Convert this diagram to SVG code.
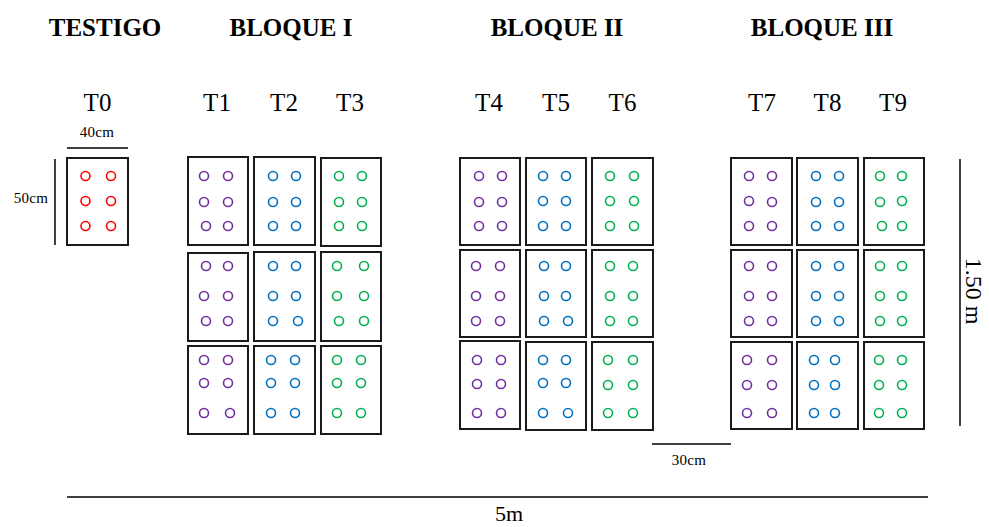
<svg xmlns="http://www.w3.org/2000/svg" width="989" height="527" viewBox="0 0 989 527">
<style>
text{font-family:"Liberation Serif","Times New Roman",serif;fill:#000}
.h{font-size:25px;font-weight:bold;text-anchor:middle}
.t{font-size:25px;text-anchor:middle}
.d{font-size:15px;text-anchor:middle;letter-spacing:0.3px}
.box{fill:#fff;stroke:#1a1a1a;stroke-width:2}
.dim{stroke:#000;stroke-width:1.5}
circle{fill:none;stroke-width:1.6}
.r circle{stroke:#FF0000}
.p circle{stroke:#7030A0}
.b circle{stroke:#0070C0}
.g circle{stroke:#00B050}
</style>
<g id="labels">
<text class="h" x="105" y="36">TESTIGO</text>
<text class="h" x="291" y="36">BLOQUE I</text>
<text class="h" x="557" y="36">BLOQUE II</text>
<text class="h" x="822" y="36">BLOQUE III</text>
<text class="t" x="97.5" y="111">T0</text>
<text class="t" x="217" y="111">T1</text>
<text class="t" x="284" y="111">T2</text>
<text class="t" x="350" y="111">T3</text>
<text class="t" x="489" y="111">T4</text>
<text class="t" x="556" y="111">T5</text>
<text class="t" x="622.5" y="111">T6</text>
<text class="t" x="762" y="111">T7</text>
<text class="t" x="827.5" y="111">T8</text>
<text class="t" x="893" y="111">T9</text>
</g>
<g id="dimensions">
<line class="dim" x1="67" y1="148" x2="128" y2="148"/>
<text class="d" x="97" y="137">40cm</text>
<line class="dim" x1="55" y1="159" x2="55" y2="245"/>
<text class="d" x="31" y="203">50cm</text>
<line class="dim" x1="652" y1="444" x2="731" y2="444"/>
<text class="d" x="689" y="465">30cm</text>
<line class="dim" x1="960" y1="159" x2="960" y2="426"/>
<text class="t" x="0" y="0" transform="translate(966 291) rotate(90)" style="font-size:24px">1.50 m</text>
<line class="dim" x1="67" y1="497" x2="928" y2="497"/>
<text class="t" x="509" y="521" style="font-size:22px">5m</text>
</g>
<g id="T0" class="r">
<rect class="box" x="67" y="158" width="61" height="87"/>
<circle cx="85.5" cy="176" r="4.5"/><circle cx="111" cy="176" r="4.5"/>
<circle cx="85.5" cy="201" r="4.5"/><circle cx="111" cy="201" r="4.5"/>
<circle cx="85.5" cy="226" r="4.5"/><circle cx="111" cy="226" r="4.5"/>
</g>
<g id="bloque1">
<g id="T1" class="p">
<rect class="box" x="188" y="157" width="60" height="88"/>
<rect class="box" x="188" y="253" width="60" height="88"/>
<rect class="box" x="188" y="346" width="60" height="88"/>
<circle cx="204" cy="176" r="4.5"/><circle cx="228" cy="176" r="4.5"/>
<circle cx="204" cy="202" r="4.5"/><circle cx="228" cy="202" r="4.5"/>
<circle cx="206" cy="226" r="4.5"/><circle cx="228" cy="226" r="4.5"/>
<circle cx="206" cy="266" r="4.5"/><circle cx="228" cy="266" r="4.5"/>
<circle cx="204" cy="296" r="4.5"/><circle cx="228" cy="296" r="4.5"/>
<circle cx="206" cy="321" r="4.5"/><circle cx="228" cy="321" r="4.5"/>
<circle cx="204" cy="360" r="4.5"/><circle cx="228" cy="360" r="4.5"/>
<circle cx="204" cy="383" r="4.5"/><circle cx="228" cy="383" r="4.5"/>
<circle cx="204" cy="413" r="4.5"/><circle cx="230" cy="413" r="4.5"/>
</g>
<g id="T2" class="b">
<rect class="box" x="254" y="157" width="61" height="88"/>
<rect class="box" x="254" y="252" width="61" height="89"/>
<rect class="box" x="254" y="346" width="61" height="88"/>
<circle cx="273" cy="176" r="4.5"/><circle cx="296" cy="176" r="4.5"/>
<circle cx="273" cy="202" r="4.5"/><circle cx="296" cy="202" r="4.5"/>
<circle cx="273" cy="226" r="4.5"/><circle cx="296" cy="226" r="4.5"/>
<circle cx="273" cy="266" r="4.5"/><circle cx="296" cy="266" r="4.5"/>
<circle cx="273" cy="296" r="4.5"/><circle cx="296" cy="296" r="4.5"/>
<circle cx="273" cy="321" r="4.5"/><circle cx="298" cy="321" r="4.5"/>
<circle cx="271" cy="360" r="4.5"/><circle cx="295" cy="360" r="4.5"/>
<circle cx="271" cy="383" r="4.5"/><circle cx="295" cy="383" r="4.5"/>
<circle cx="271" cy="413" r="4.5"/><circle cx="295" cy="413" r="4.5"/>
</g>
<g id="T3" class="g">
<rect class="box" x="321" y="158" width="60" height="88"/>
<rect class="box" x="321" y="252" width="60" height="89"/>
<rect class="box" x="321" y="346" width="60" height="88"/>
<circle cx="339" cy="176" r="4.5"/><circle cx="362" cy="176" r="4.5"/>
<circle cx="339" cy="202" r="4.5"/><circle cx="362" cy="202" r="4.5"/>
<circle cx="339" cy="226" r="4.5"/><circle cx="362" cy="226" r="4.5"/>
<circle cx="337" cy="266" r="4.5"/><circle cx="364" cy="266" r="4.5"/>
<circle cx="337" cy="296" r="4.5"/><circle cx="364" cy="296" r="4.5"/>
<circle cx="339" cy="321" r="4.5"/><circle cx="364" cy="321" r="4.5"/>
<circle cx="337" cy="360" r="4.5"/><circle cx="361" cy="360" r="4.5"/>
<circle cx="337" cy="383" r="4.5"/><circle cx="361" cy="383" r="4.5"/>
<circle cx="337" cy="413" r="4.5"/><circle cx="361" cy="413" r="4.5"/>
</g>
</g>
<g id="bloque2">
<g id="T4" class="p">
<rect class="box" x="460" y="158" width="60" height="87"/>
<rect class="box" x="460" y="250" width="60" height="87"/>
<rect class="box" x="460" y="341" width="60" height="88"/>
<circle cx="479" cy="176" r="4.5"/><circle cx="502" cy="176" r="4.5"/>
<circle cx="479" cy="202" r="4.5"/><circle cx="502" cy="202" r="4.5"/>
<circle cx="479" cy="226" r="4.5"/><circle cx="502" cy="226" r="4.5"/>
<circle cx="476" cy="266" r="4.5"/><circle cx="500" cy="266" r="4.5"/>
<circle cx="476" cy="296" r="4.5"/><circle cx="500" cy="296" r="4.5"/>
<circle cx="476" cy="321" r="4.5"/><circle cx="500" cy="321" r="4.5"/>
<circle cx="477" cy="360" r="4.5"/><circle cx="501" cy="360" r="4.5"/>
<circle cx="477" cy="384" r="4.5"/><circle cx="501" cy="384" r="4.5"/>
<circle cx="477" cy="413" r="4.5"/><circle cx="501" cy="413" r="4.5"/>
</g>
<g id="T5" class="b">
<rect class="box" x="526" y="158" width="60" height="87"/>
<rect class="box" x="526" y="250" width="60" height="87"/>
<rect class="box" x="526" y="342" width="60" height="88"/>
<circle cx="543" cy="176" r="4.5"/><circle cx="566" cy="176" r="4.5"/>
<circle cx="543" cy="201" r="4.5"/><circle cx="566" cy="201" r="4.5"/>
<circle cx="543" cy="226" r="4.5"/><circle cx="566" cy="226" r="4.5"/>
<circle cx="544" cy="266" r="4.5"/><circle cx="566" cy="266" r="4.5"/>
<circle cx="544" cy="296" r="4.5"/><circle cx="566" cy="296" r="4.5"/>
<circle cx="544" cy="321" r="4.5"/><circle cx="568" cy="321" r="4.5"/>
<circle cx="543" cy="360" r="4.5"/><circle cx="566" cy="360" r="4.5"/>
<circle cx="543" cy="383" r="4.5"/><circle cx="566" cy="383" r="4.5"/>
<circle cx="543" cy="413" r="4.5"/><circle cx="568" cy="413" r="4.5"/>
</g>
<g id="T6" class="g">
<rect class="box" x="592" y="158" width="61" height="87"/>
<rect class="box" x="592" y="250" width="61" height="87"/>
<rect class="box" x="592" y="342" width="61" height="88"/>
<circle cx="610" cy="176" r="4.5"/><circle cx="634" cy="176" r="4.5"/>
<circle cx="610" cy="201" r="4.5"/><circle cx="634" cy="201" r="4.5"/>
<circle cx="610" cy="226" r="4.5"/><circle cx="634" cy="226" r="4.5"/>
<circle cx="610" cy="266" r="4.5"/><circle cx="633" cy="266" r="4.5"/>
<circle cx="610" cy="296" r="4.5"/><circle cx="633" cy="296" r="4.5"/>
<circle cx="610" cy="321" r="4.5"/><circle cx="633" cy="321" r="4.5"/>
<circle cx="608" cy="360" r="4.5"/><circle cx="633" cy="360" r="4.5"/>
<circle cx="608" cy="385" r="4.5"/><circle cx="633" cy="385" r="4.5"/>
<circle cx="608" cy="413" r="4.5"/><circle cx="633" cy="413" r="4.5"/>
</g>
</g>
<g id="bloque3">
<g id="T7" class="p">
<rect class="box" x="731" y="158" width="61" height="87"/>
<rect class="box" x="731" y="250" width="61" height="87"/>
<rect class="box" x="731" y="342" width="61" height="87"/>
<circle cx="749" cy="176" r="4.5"/><circle cx="772" cy="176" r="4.5"/>
<circle cx="749" cy="201" r="4.5"/><circle cx="772" cy="202" r="4.5"/>
<circle cx="749" cy="226" r="4.5"/><circle cx="772" cy="226" r="4.5"/>
<circle cx="749" cy="266" r="4.5"/><circle cx="772" cy="266" r="4.5"/>
<circle cx="749" cy="296" r="4.5"/><circle cx="772" cy="296" r="4.5"/>
<circle cx="749" cy="321" r="4.5"/><circle cx="772" cy="321" r="4.5"/>
<circle cx="747" cy="360" r="4.5"/><circle cx="772" cy="360" r="4.5"/>
<circle cx="747" cy="385" r="4.5"/><circle cx="772" cy="385" r="4.5"/>
<circle cx="747" cy="413" r="4.5"/><circle cx="772" cy="413" r="4.5"/>
</g>
<g id="T8" class="b">
<rect class="box" x="797" y="158" width="61" height="87"/>
<rect class="box" x="797" y="250" width="61" height="87"/>
<rect class="box" x="797" y="342" width="61" height="87"/>
<circle cx="816" cy="176" r="4.5"/><circle cx="839" cy="176" r="4.5"/>
<circle cx="816" cy="202" r="4.5"/><circle cx="839" cy="202" r="4.5"/>
<circle cx="816" cy="226" r="4.5"/><circle cx="839" cy="226" r="4.5"/>
<circle cx="816" cy="266" r="4.5"/><circle cx="839" cy="266" r="4.5"/>
<circle cx="816" cy="296" r="4.5"/><circle cx="839" cy="296" r="4.5"/>
<circle cx="816" cy="321" r="4.5"/><circle cx="839" cy="321" r="4.5"/>
<circle cx="814" cy="360" r="4.5"/><circle cx="835" cy="360" r="4.5"/>
<circle cx="814" cy="385" r="4.5"/><circle cx="835" cy="385" r="4.5"/>
<circle cx="814" cy="413" r="4.5"/><circle cx="835" cy="413" r="4.5"/>
</g>
<g id="T9" class="g">
<rect class="box" x="864" y="158" width="60" height="87"/>
<rect class="box" x="864" y="250" width="60" height="87"/>
<rect class="box" x="864" y="342" width="60" height="87"/>
<circle cx="880" cy="176" r="4.5"/><circle cx="902" cy="176" r="4.5"/>
<circle cx="880" cy="202" r="4.5"/><circle cx="902" cy="201" r="4.5"/>
<circle cx="882" cy="226" r="4.5"/><circle cx="902" cy="226" r="4.5"/>
<circle cx="880" cy="266" r="4.5"/><circle cx="902" cy="266" r="4.5"/>
<circle cx="880" cy="296" r="4.5"/><circle cx="902" cy="296" r="4.5"/>
<circle cx="880" cy="321" r="4.5"/><circle cx="902" cy="321" r="4.5"/>
<circle cx="879" cy="360" r="4.5"/><circle cx="902" cy="360" r="4.5"/>
<circle cx="879" cy="385" r="4.5"/><circle cx="902" cy="385" r="4.5"/>
<circle cx="879" cy="413" r="4.5"/><circle cx="902" cy="413" r="4.5"/>
</g>
</g>
</svg>
